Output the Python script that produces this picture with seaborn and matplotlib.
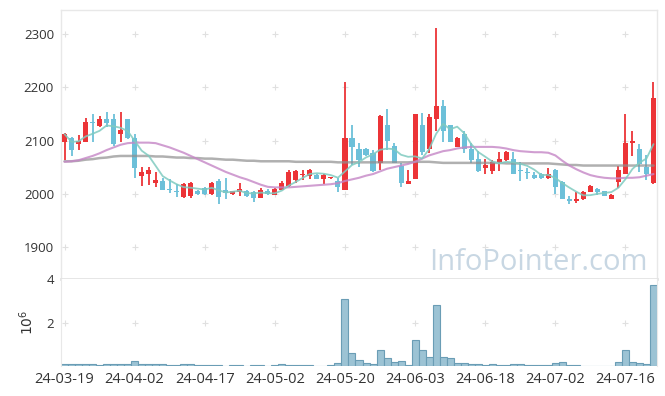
import numpy as np
import pandas as pd
import seaborn as sns
import matplotlib.pyplot as plt

# daily OHLC (trading days 24-03-19 .. 24-07-22)
opens = [2098, 2105, 2094, 2098, 2135, 2127, 2140, 2140, 2113, 2140,
         2105, 2033, 2038, 2020, 2024, 2008, 2006, 1994, 1996, 2006,
         2010, 1999, 2024, 2007, 1999, 2003, 2006, 2004, 1993, 2005,
         1998, 2008, 2015, 2025, 2035, 2033, 2035, 2028, 2030, 2024,
         2008, 2104, 2084, 2084, 2076, 2058, 2129, 2090, 2053, 2019,
         2028, 2129, 2084, 2140, 2165, 2129, 2088, 2113, 2084, 2065,
         2049, 2043, 2059, 2063, 2065, 2044, 2041, 2035, 2037, 2029,
         2045, 2022, 1990, 1986, 1990, 2004, 2009, 2005, 1990, 2023,
         2038, 2095, 2084, 2051, 2020]
highs = [2115, 2107, 2110, 2142, 2149, 2146, 2154, 2150, 2154, 2140,
         2113, 2050, 2051, 2041, 2029, 2028, 2018, 2020, 2022, 2008,
         2013, 2022, 2028, 2029, 2006, 2020, 2007, 2006, 2010, 2009,
         2011, 2024, 2045, 2045, 2045, 2046, 2037, 2038, 2032, 2029,
         2209, 2129, 2095, 2086, 2082, 2148, 2160, 2095, 2057, 2045,
         2150, 2151, 2149, 2311, 2176, 2130, 2107, 2118, 2095, 2080,
         2066, 2063, 2079, 2080, 2079, 2059, 2048, 2040, 2039, 2049,
         2046, 2024, 1996, 2004, 2005, 2016, 2011, 2006, 1999, 2053,
         2149, 2118, 2093, 2073, 2209]
lows = [2063, 2070, 2083, 2097, 2098, 2126, 2126, 2090, 2097, 2102,
        2029, 2015, 2016, 2013, 2008, 2002, 1994, 1992, 1992, 1998,
        1998, 1998, 1980, 1990, 1998, 1996, 1994, 1985, 1992, 1998,
        1997, 2007, 2013, 2020, 2025, 2027, 2027, 2019, 2028, 2004,
        2007, 2054, 2051, 2070, 2040, 2045, 2082, 2057, 2012, 2018,
        2028, 2073, 2076, 2117, 2098, 2097, 2087, 2076, 2057, 2041,
        2038, 2038, 2043, 2062, 2037, 2024, 2028, 2028, 2028, 2028,
        1999, 1990, 1980, 1982, 1989, 2003, 1998, 1995, 1990, 2010,
        2037, 2070, 2041, 2026, 2018]
closes = [2112, 2083, 2100, 2135, 2133, 2140, 2133, 2093, 2120, 2104,
          2048, 2040, 2045, 2025, 2008, 2007, 2004, 2018, 2020, 1999,
          1999, 2020, 1994, 2001, 2005, 2009, 1996, 1993, 2008, 1999,
          2009, 2021, 2040, 2043, 2037, 2045, 2028, 2035, 2030, 2013,
          2104, 2088, 2063, 2073, 2043, 2146, 2099, 2058, 2020, 2024,
          2150, 2079, 2145, 2165, 2118, 2098, 2104, 2084, 2063, 2043,
          2054, 2059, 2065, 2079, 2037, 2042, 2039, 2029, 2029, 2038,
          2013, 1991, 1987, 1990, 2004, 2015, 2003, 1996, 1998, 2045,
          2095, 2099, 2055, 2037, 2180]
# volume in millions of shares
volumes = [0.10, 0.10, 0.10, 0.10, 0.10, 0.05, 0.10, 0.10, 0.10, 0.10,
           0.25, 0.08, 0.08, 0.08, 0.08, 0.03, 0.03, 0.10, 0.10, 0.03,
           0.06, 0.03, 0.05, 0.02, 0.03, 0.05, 0.02, 0.03, 0.06, 0.02,
           0.03, 0.10, 0.05, 0.03, 0.05, 0.05, 0.01, 0.01, 0.06, 0.12,
           3.10, 0.62, 0.26, 0.16, 0.08, 0.72, 0.38, 0.17, 0.22, 0.06,
           1.18, 0.72, 0.43, 2.79, 0.43, 0.39, 0.16, 0.16, 0.11, 0.11,
           0.06, 0.11, 0.06, 0.06, 0.11, 0.11, 0.06, 0.06, 0.03, 0.06,
           0.15, 0.20, 0.06, 0.06, 0.02, 0.02, 0.02, 0.02, 0.02, 0.20,
           0.72, 0.20, 0.15, 0.11, 3.71]
# longer moving averages (need history before the window)
ma20 = [2060, 2061, 2063, 2067, 2071, 2076, 2082, 2087, 2092, 2095,
        2096, 2096, 2096, 2095, 2091, 2087, 2082, 2077, 2071, 2065,
        2059, 2053, 2047, 2041, 2036, 2031, 2027, 2022, 2017, 2013,
        2012, 2012, 2012, 2013, 2014, 2015, 2016, 2017, 2018, 2020,
        2024, 2027, 2030, 2034, 2037, 2042, 2047, 2050, 2053, 2056,
        2060, 2066, 2072, 2076, 2080, 2082, 2085, 2087, 2088, 2088,
        2088, 2088, 2087, 2085, 2082, 2080, 2079, 2078, 2078, 2077,
        2072, 2062, 2053, 2046, 2040, 2035, 2032, 2030, 2029, 2029,
        2030, 2030, 2031, 2034, 2037]
ma60 = [2061, 2061, 2062, 2064, 2065, 2067, 2068, 2070, 2071, 2071,
        2071, 2071, 2071, 2070, 2070, 2069, 2068, 2068, 2067, 2067,
        2066, 2066, 2065, 2064, 2064, 2063, 2062, 2062, 2061, 2061,
        2061, 2061, 2061, 2060, 2060, 2060, 2060, 2060, 2060, 2059,
        2059, 2059, 2059, 2059, 2059, 2059, 2059, 2059, 2059, 2059,
        2060, 2060, 2060, 2059, 2058, 2058, 2058, 2058, 2058, 2058,
        2058, 2058, 2058, 2057, 2057, 2057, 2057, 2057, 2057, 2057,
        2056, 2055, 2054, 2054, 2053, 2053, 2053, 2053, 2053, 2053,
        2053, 2053, 2053, 2053, 2053]
holidays = ['2024-04-10', '2024-05-01', '2024-05-06', '2024-05-15', '2024-06-06']

dates = pd.bdate_range('2024-03-19', '2024-07-22')
dates = dates[~dates.isin(pd.to_datetime(holidays))]

df = pd.DataFrame({'date': dates[:len(closes)], 'open': opens, 'high': highs,
                   'low': lows, 'close': closes, 'volume': volumes,
                   'ma20': ma20, 'ma60': ma60})
df['idx'] = np.arange(len(df))
df['ma5'] = df['close'].rolling(5, min_periods=1).mean()

RED = '#ec3437'
BLUE = '#6cc0d9'

sns.set_style('white')
plt.rcParams['font.family'] = ['Open Sans', 'DejaVu Sans']

fig = plt.figure(figsize=(6.65, 3.96), dpi=100)
W, H = 665, 396
ax = fig.add_axes([61 / W, 1 - 279 / H, 596 / W, 269 / H])
axv = fig.add_axes([61 / W, 1 - 366 / H, 596 / W, 87 / H], sharex=ax)

xt = list(range(0, len(df), 10))

# grid crosses
for x in xt:
    for y in [1900, 2000, 2100, 2200, 2300]:
        ax.scatter(x, y, marker='+', s=18, color='#e0e0e0', linewidths=0.8, zorder=0)
    axv.scatter(x, 2, marker='+', s=18, color='#e0e0e0', linewidths=0.8, zorder=0)

# candles
up = df['close'] >= df['open']
cols = np.where(up, RED, BLUE)
body_lo = df[['open', 'close']].min(axis=1)
body_h = (df['close'] - df['open']).abs().clip(lower=1.2)
ax.vlines(df['idx'], df['low'], df['high'], colors=cols, lw=1.3, zorder=2)
ax.bar(df['idx'], body_h, bottom=body_lo, width=0.72, color=cols, lw=0, zorder=3)

# moving averages
sns.lineplot(data=df, x='idx', y='ma60', color='#8f8f8f', lw=1.8, alpha=0.7, ax=ax, zorder=4)
sns.lineplot(data=df, x='idx', y='ma20', color='#c586c6', lw=1.5, alpha=0.8, ax=ax, zorder=4)
sns.lineplot(data=df, x='idx', y='ma5', color='#7fcbc0', lw=1.3, alpha=0.85, ax=ax, zorder=5)

ax.text(0.985, 0.035, 'InfoPointer.com', transform=ax.transAxes, ha='right',
        va='baseline', fontsize=21, color='#c8d7e3', zorder=1)

ax.set_xlim(-0.5, len(df) - 0.5)
ax.set_ylim(1840, 2345)
ax.set_yticks([1900, 2000, 2100, 2200, 2300])
ax.set_xlabel('')
ax.set_ylabel('')
ax.tick_params(axis='both', length=0, labelsize=9.5, colors='#333333', pad=5)
ax.tick_params(axis='x', labelbottom=False)
for s in ax.spines.values():
    s.set_color('#e8e8e8')
    s.set_linewidth(1)
ax.spines['bottom'].set_linewidth(2)
ax.spines['bottom'].set_color('#e3e3e3')

# volume
sns.barplot(data=df, x='idx', y='volume', native_scale=True, width=1,
            color='#9cc3d4', edgecolor='#6a9db5', linewidth=0.8,
            saturation=1, errorbar=None, ax=axv)
axv.set_ylim(0, 4)
axv.set_yticks([2, 4])
axv.set_yticklabels(['2', '4'])
axv.set_xticks(xt)
axv.set_xticklabels([df['date'][i].strftime('%y-%m-%d') for i in xt])
axv.set_xlim(-0.5, len(df) - 0.5)
axv.set_xlabel('')
axv.set_ylabel(r'$10^6$', fontsize=10, color='#333333')
axv.yaxis.set_label_coords(-0.04, 0.5)
axv.tick_params(axis='y', length=0, labelsize=9.5, colors='#333333', pad=5)
axv.tick_params(axis='x', length=0, labelsize=10.5, colors='#333333', pad=4)
axv.spines['top'].set_visible(False)
axv.spines['bottom'].set_visible(False)
for s in ['left', 'right']:
    axv.spines[s].set_color('#e8e8e8')

fig.savefig('out.png', dpi=100)
